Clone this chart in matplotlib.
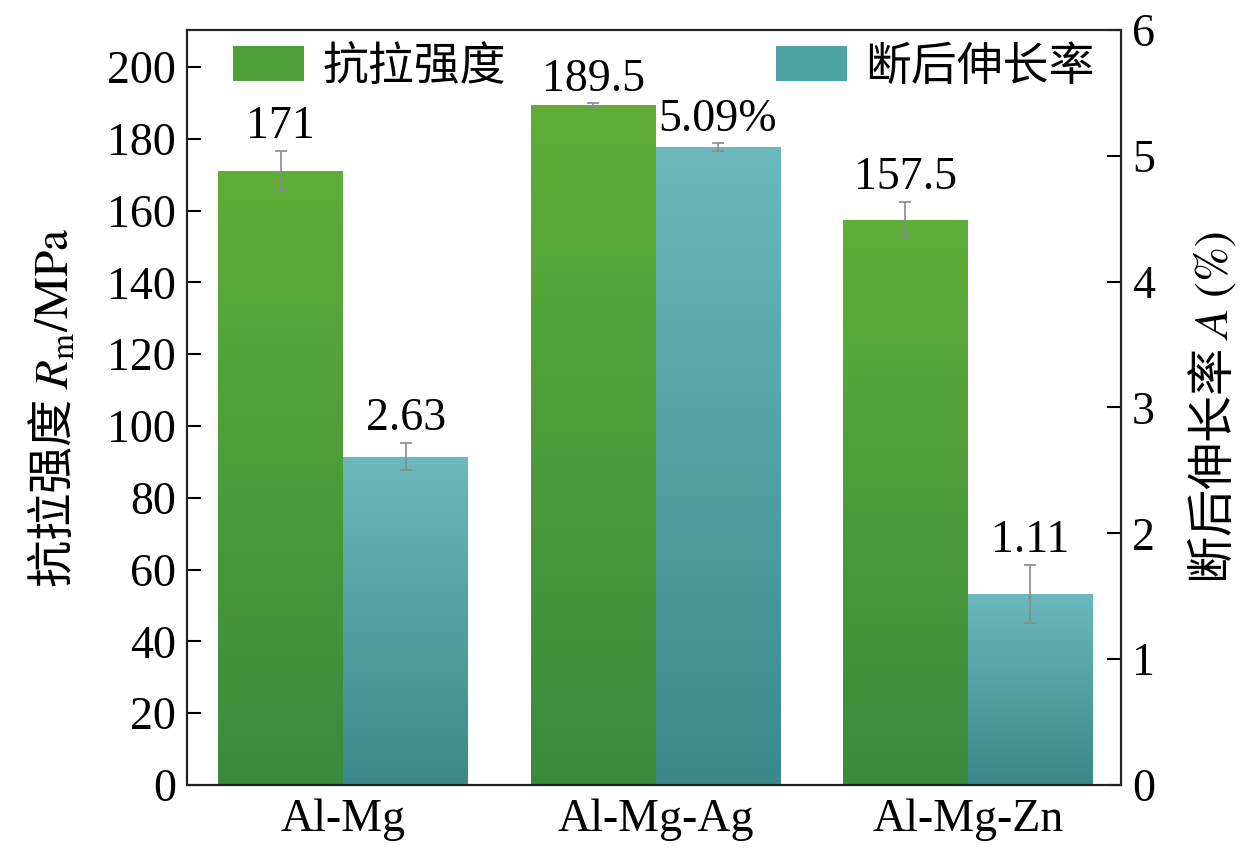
import numpy as np
import matplotlib
matplotlib.use("Agg")
from matplotlib import pyplot as plt
from matplotlib.colors import LinearSegmentedColormap
from matplotlib.patches import Patch

plt.rcParams['font.family'] = ['Liberation Serif', 'Noto Sans CJK SC']
plt.rcParams['mathtext.fontset'] = 'stix'

alloys = ["Al-Mg", "Al-Mg-Ag", "Al-Mg-Zn"]
strength = [171, 189.5, 157.5]
strength_err = [5.6, 0.4, 5.0]
strength_txt = ["171", "189.5", "157.5"]
elong = [2.61, 5.07, 1.52]
elong_err = [0.11, 0.03, 0.23]
elong_txt = ["2.63", "5.09%", "1.11"]

green_top, green_bot = "#5fae38", "#3a8a3c"
teal_top, teal_bot = "#6bb9bd", "#3a8889"
fs = 33


def grad_fill(ax, bars, c_top, c_bot):
    cmap = LinearSegmentedColormap.from_list("g", [c_bot, c_top])
    g = np.linspace(0, 1, 256).reshape(-1, 1)
    for b in bars:
        x0, y0, w, h = b.get_x(), b.get_y(), b.get_width(), b.get_height()
        im = ax.imshow(g, cmap=cmap, extent=[x0, x0 + w, y0, y0 + h], origin="lower",
                       aspect="auto", zorder=b.get_zorder())
        im.set_clip_path(b)
        b.set_facecolor("none")


fig = plt.figure(figsize=(12.51, 8.56), dpi=100)
ax = fig.add_axes([0.1495, 0.083, 0.7465, 0.882])
ax2 = ax.twinx()

x = np.arange(len(alloys))
w = 0.4
b1 = ax.bar(x - w / 2, strength, w, color=green_top, linewidth=0, zorder=2)
b2 = ax2.bar(x + w / 2, elong, w, color=teal_top, linewidth=0, zorder=2)
grad_fill(ax, b1, green_top, green_bot)
grad_fill(ax2, b2, teal_top, teal_bot)

ax.errorbar(x - w / 2, strength, yerr=strength_err, fmt="none", ecolor="#8a8a8a",
            elinewidth=1.2, capsize=4.5, capthick=1.2, zorder=3)
ax2.errorbar(x + w / 2, elong, yerr=elong_err, fmt="none", ecolor="#8a8a8a",
             elinewidth=1.2, capsize=4.5, capthick=1.2, zorder=3)

for xi, v, e, t in zip(x - w / 2, strength, strength_err, strength_txt):
    ax.annotate(t, (xi, v + e), xytext=(0, 9), textcoords="offset points",
                ha="center", va="baseline", fontsize=fs)
for xi, v, e, t in zip(x + w / 2, elong, elong_err, elong_txt):
    ax2.annotate(t, (xi, v + e), xytext=(0, 9), textcoords="offset points",
                 ha="center", va="baseline", fontsize=fs)

ax.set_xlim(-0.5, 2.49)
ax.set_ylim(0, 210.3)
ax2.set_ylim(0, 6)
ax.set_yticks(np.arange(0, 201, 20))
ax2.set_yticks(np.arange(0, 7, 1))
ax.set_xticks(x)
ax.set_xticklabels(alloys)

ax.tick_params(axis="y", direction="in", length=10, width=1.5, labelsize=fs, pad=8)
ax2.tick_params(axis="y", direction="in", length=10, width=1.5, labelsize=fs, pad=8)
ax.tick_params(axis="x", length=0, labelsize=fs, pad=10)
for a in (ax, ax2):
    for s in a.spines.values():
        s.set_linewidth(1.5)
        s.set_color("#222222")

ax.set_ylabel("抗拉强度 $R_\\mathrm{m}\\mathrm{/MPa}$", fontsize=34, labelpad=20,
              family="Noto Sans CJK SC")
ax2.set_ylabel("断后伸长率 $A\\ \\mathrm{(\\%)}$", fontsize=34, labelpad=22,
               family="Noto Sans CJK SC")

handles = [Patch(facecolor="#4d9e37", label="抗拉强度"),
           Patch(facecolor="#4fa2a4", label="断后伸长率")]
ax2.legend(handles=handles, loc="upper left", bbox_to_anchor=(0.032, 1.0), ncol=2,
           frameon=False, fontsize=fs, handlelength=1.55, handleheight=0.8,
           handletextpad=0.4, columnspacing=5.9, borderaxespad=0.15, borderpad=0.2)

plt.savefig("out.png", dpi=100)
